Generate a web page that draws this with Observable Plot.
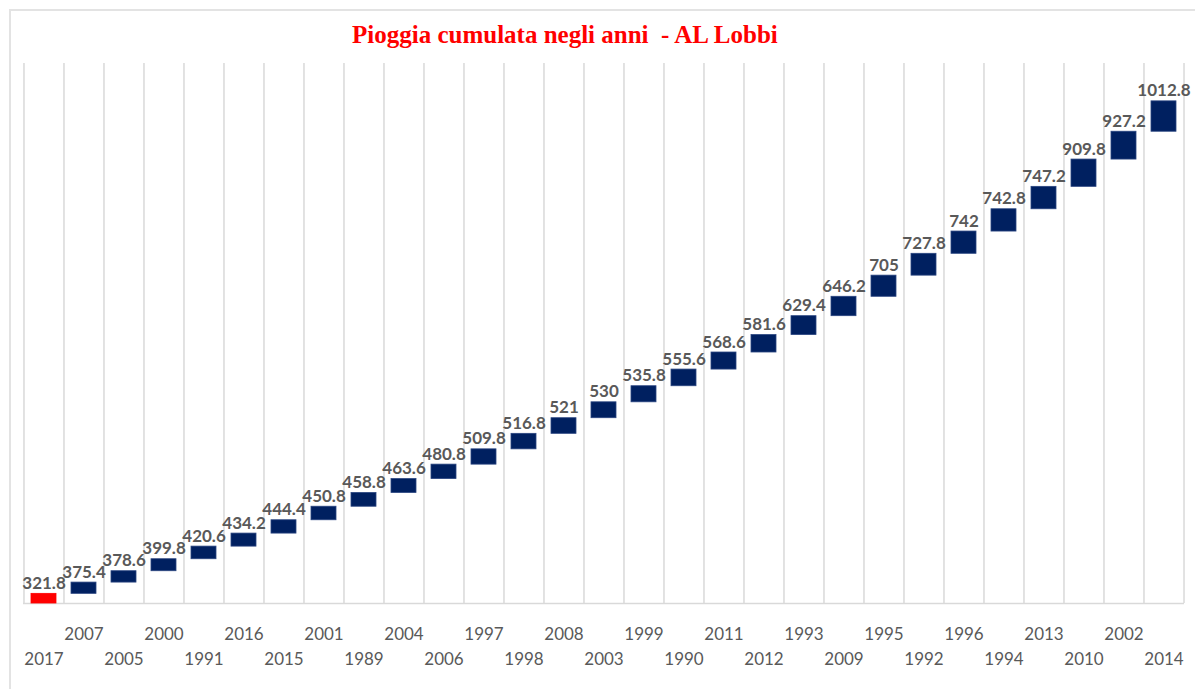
<!DOCTYPE html>
<html>
<head>
<meta charset="utf-8">
<script src="https://cdn.jsdelivr.net/npm/d3@7"></script>
<script src="https://cdn.jsdelivr.net/npm/@observablehq/plot@0.6"></script>
<style>
  html, body { margin: 0; padding: 0; background: #fff; overflow: hidden; }
  #wrap { position: relative; width: 1195px; height: 689px; }
  #border { position: absolute; left: 9px; top: 9px; width: 1400px; height: 900px; border: 2px solid #e3e3e3; box-sizing: border-box; }
  #title { position: relative; height: 63px; }
  #title span { position: absolute; left: 352px; top: 21px; font-family: "Liberation Serif", serif; font-weight: bold; font-size: 25px; color: #ff0000; white-space: pre; }
  #chart svg { display: block; }
</style>
</head>
<body>
<div id="wrap">
  <div id="border"></div>
  <div id="title"><span>Pioggia cumulata negli anni  - AL Lobbi</span></div>
  <div id="chart"></div>
</div>
<script>
const years = ["2017","2007","2005","2000","1991","2016","2015","2001","1989","2004","2006","1997","1998","2008","2003","1999","1990","2011","2012","1993","2009","1995","1992","1996","1994","2013","2010","2002","2014"];
const rain = [321.8,375.4,378.6,399.8,420.6,434.2,444.4,450.8,458.8,463.6,480.8,509.8,516.8,521,530,535.8,555.6,568.6,581.6,629.4,646.2,705,727.8,742,742.8,747.2,909.8,927.2,1012.8];
const highlight = ["2017"];

let acc = 0;
const rows = years.map((y, i) => {
  const start = acc;
  acc += rain[i];
  return {year: y, value: rain[i], start, end: acc, i};
});

const W = 1195, H = 626, ML = 23, MR = 11, MT = 0, MB = 86;
const step = (W - ML - MR) / years.length;

const chart = Plot.plot({
  width: W,
  height: H,
  marginLeft: ML,
  marginRight: MR,
  marginTop: MT,
  marginBottom: MB,
  x: {domain: years, paddingInner: 0.37, paddingOuter: 0.185, axis: null},
  y: {domain: [0, 18000], axis: null},
  style: {background: "transparent"},
  marks: [
    Plot.ruleX(years, {x: d => d, dx: -step / 2, stroke: "#d9d9d9", strokeWidth: 1.5}),
    Plot.ruleX([years[years.length - 1]], {x: d => d, dx: step / 2, stroke: "#d9d9d9", strokeWidth: 1.5}),
    Plot.ruleY([0], {stroke: "#d9d9d9", strokeWidth: 1.5}),
    Plot.barY(rows, {
      x: "year", y1: "start", y2: "end",
      fill: d => highlight.includes(d.year) ? "#ff0000" : "#002060",
      stroke: d => highlight.includes(d.year) ? "#ff0000" : "#2a4580",
      strokeWidth: 0.8
    }),
    Plot.text(rows, {
      x: "year", y: "end", text: d => String(d.value),
      lineAnchor: "bottom", dy: -5,
      fill: "#595959", fontWeight: "bold", fontSize: 17, fontFamily: "Lato"
    }),
    Plot.text(rows.filter(d => d.i % 2 === 1), {
      x: "year", frameAnchor: "bottom", text: "year",
      lineAnchor: "bottom", dy: 36,
      fill: "#595959", fontSize: 17, fontFamily: "Lato"
    }),
    Plot.text(rows.filter(d => d.i % 2 === 0), {
      x: "year", frameAnchor: "bottom", text: "year",
      lineAnchor: "bottom", dy: 61,
      fill: "#595959", fontSize: 17, fontFamily: "Lato"
    })
  ]
});
document.getElementById("chart").appendChild(chart);
</script>
</body>
</html>
